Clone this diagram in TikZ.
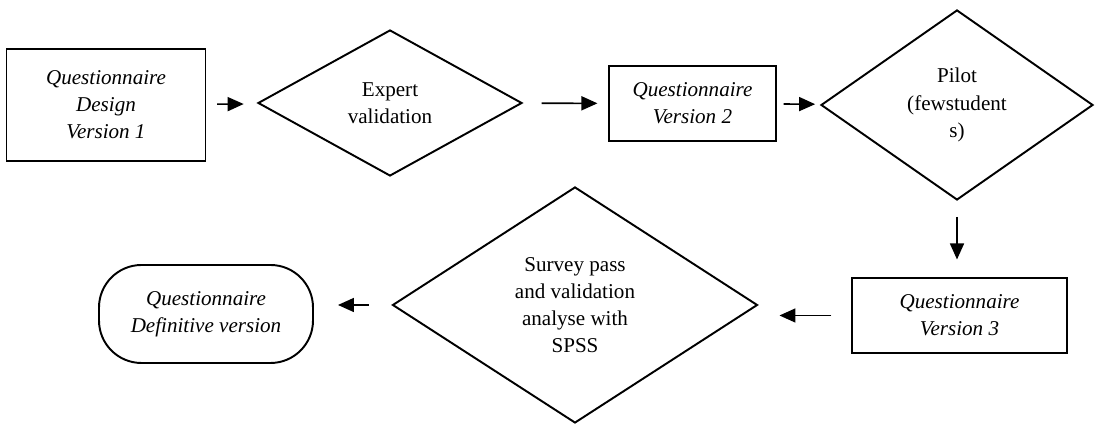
\documentclass[tikz,border=0pt]{standalone}
\usepackage{fontspec}
\setmainfont{Liberation Serif}
\usetikzlibrary{arrows.meta,shapes.geometric}
\tikzset{
  qs diagram/.style={font=\fontsize{12}{15.4}\selectfont, line join=miter},
  qs box/.style={draw, line width=0.6pt, align=center, inner sep=2pt,
    font=\fontsize{12}{15.4}\selectfont\itshape},
  qs diamond/.style={draw, diamond, aspect=1, line width=1.1pt,
    align=center, inner sep=0pt},
  qs end/.style={qs box, line width=1.1pt, rounded corners=0.85cm},
  qs arrow/.style={-{Triangle[length=0.32cm,width=0.28cm]}, line width=0.9pt}
}
\begin{document}
\begin{tikzpicture}[qs diagram]
\useasboundingbox (0,0) rectangle (22.26,8.5);
% first row
\node[qs box,minimum width=3.98cm,minimum height=2.24cm] (q1) at (2.12,6.40)
  {Questionnaire\\Design\\Version 1};
\node[qs diamond,minimum width=5.28cm,minimum height=2.92cm] (expert) at (7.80,6.44)
  {Expert\\validation};
\node[qs box,minimum width=3.34cm,minimum height=1.50cm] (q2) at (13.85,6.43)
  {Questionnaire\\Version 2};
\node[qs diamond,minimum width=5.44cm,minimum height=3.80cm] (pilot) at (19.14,6.40)
  {Pilot\\(fewstudent\\s)};
% second row
\node[qs box,minimum width=4.30cm,minimum height=1.50cm] (q3) at (19.19,2.19)
  {Questionnaire\\Version 3};
\node[qs diamond,minimum width=7.30cm,minimum height=4.72cm] (survey) at (11.50,2.40)
  {Survey pass\\and validation\\analyse with\\SPSS};
\node[qs end,minimum width=4.28cm,minimum height=1.96cm] (final) at (4.12,2.22)
  {Questionnaire\\Definitive version};
% arrows
\draw[qs arrow,shorten <=0.22cm,shorten >=0.30cm] (q1) -- (expert);
\draw[qs arrow,shorten <=0.38cm,shorten >=0.22cm] (expert) -- (q2);
\draw[qs arrow,shorten <=0.14cm,shorten >=0.12cm] (q2) -- (pilot);
\draw[qs arrow,shorten <=0.32cm,shorten >=0.36cm] (pilot.south) -- (pilot.south |- q3.north);
\draw[qs arrow,shorten <=0.40cm,shorten >=0.42cm] (q3.west) -- (q3.west -| survey.east);
\draw[qs arrow,shorten <=0.46cm,shorten >=0.48cm] (survey.west) -- (survey.west -| final.east);
\end{tikzpicture}
\end{document}
